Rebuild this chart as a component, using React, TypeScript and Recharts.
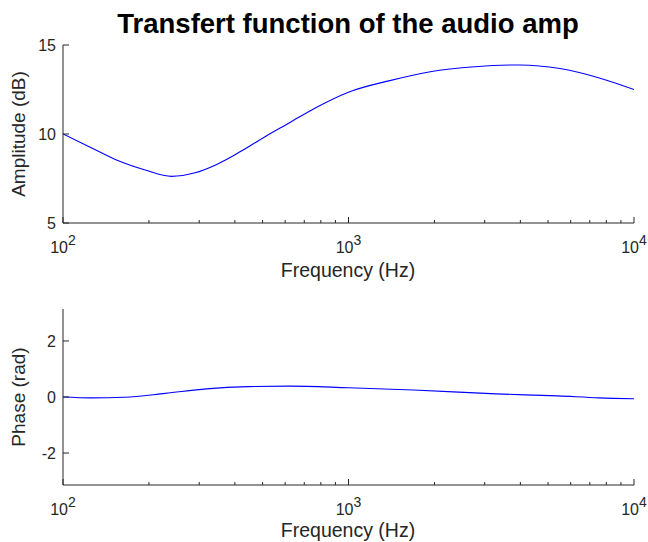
import { Line, LineChart, XAxis, YAxis } from 'recharts';

// frequency axis (Hz), log scale
const freqTicks = [100, 200, 300, 400, 500, 600, 700, 800, 900, 1000, 2000, 3000, 4000, 5000, 6000, 7000, 8000, 9000, 10000];
const decades = [100, 1000, 10000];

// amplitude response
const ampFreq = [100, 124, 154, 194, 240, 290, 341, 417, 510, 624, 762, 1000, 1396, 1934, 2770, 3985, 5500, 7560, 10000];
const ampDb = [10.0, 9.27, 8.54, 7.98, 7.62, 7.82, 8.25, 9.0, 9.85, 10.65, 11.45, 12.35, 13.0, 13.5, 13.78, 13.88, 13.68, 13.15, 12.5];
const ampTicks = [5, 10, 15];

// phase response
const phaseFreq = [100, 125, 164, 228, 318, 445, 620, 1000, 1687, 3290, 5405, 7540, 10000];
const phaseRad = [0.0, -0.03, -0.01, 0.13, 0.29, 0.37, 0.39, 0.33, 0.25, 0.11, 0.04, -0.03, -0.06];
const phaseTicks = [-2, 0, 2];

const ampData = ampFreq.map((f, i) => ({ f, v: ampDb[i] }));
const phaseData = phaseFreq.map((f, i) => ({ f, v: phaseRad[i] }));

const AXIS = '#262626';
const FONT = '"Liberation Sans", Arial, Helvetica, sans-serif';

function BottomTick({ x, y, payload }: any) {
  const major = decades.includes(payload.value);
  const len = major ? 6 : 3;
  return (
    <g>
      <line x1={x} x2={x} y1={y} y2={y - len} stroke={AXIS} />
      {major && (
        <text x={x} y={y + 30} textAnchor="middle" fill={AXIS} fontSize={16}>
          <tspan>10</tspan>
          <tspan dy={-8} fontSize={14}>{Math.round(Math.log10(payload.value))}</tspan>
        </text>
      )}
    </g>
  );
}

function TopTick({ x, y, payload }: any) {
  const len = decades.includes(payload.value) ? 6 : 3;
  return <line x1={x} x2={x} y1={y} y2={y + len} stroke={AXIS} />;
}

function LeftTick({ x, y, payload }: any) {
  return (
    <g>
      <line x1={x} x2={x + 6} y1={y} y2={y} stroke={AXIS} />
      <text x={x - 7} y={y + 6} textAnchor="end" fill={AXIS} fontSize={16}>
        {payload.value}
      </text>
    </g>
  );
}

function RightTick({ x, y }: any) {
  return <line x1={x} x2={x - 6} y1={y} y2={y} stroke={AXIS} />;
}

function Panel({ data, domain, ticks, height, top, bottom }: any) {
  return (
    <LineChart width={648} height={height} data={data} margin={{ top, right: 14, bottom: 0, left: 0 }}>
      <XAxis
        dataKey="f"
        type="number"
        scale="log"
        domain={[100, 10000]}
        allowDataOverflow
        ticks={freqTicks}
        interval={0}
        tickSize={0}
        tickMargin={0}
        tickLine={false}
        tick={<BottomTick />}
        height={bottom}
        stroke={AXIS}
      />
      <XAxis
        xAxisId="top"
        orientation="top"
        dataKey="f"
        type="number"
        scale="log"
        domain={[100, 10000]}
        allowDataOverflow
        ticks={freqTicks}
        interval={0}
        tickSize={0}
        tickMargin={0}
        tickLine={false}
        tick={<TopTick />}
        height={0}
        stroke={AXIS}
      />
      <YAxis
        type="number"
        domain={domain}
        allowDataOverflow
        ticks={ticks}
        interval={0}
        tickSize={0}
        tickMargin={0}
        tickLine={false}
        tick={<LeftTick />}
        width={63}
        stroke={AXIS}
      />
      <YAxis
        yAxisId="right"
        orientation="right"
        type="number"
        domain={domain}
        allowDataOverflow
        ticks={ticks}
        interval={0}
        tickSize={0}
        tickMargin={0}
        tickLine={false}
        tick={<RightTick />}
        width={0}
        stroke={AXIS}
      />
      <Line dataKey="v" type="monotone" stroke="#0000ff" strokeWidth={1.1} dot={false} isAnimationActive={false} />
    </LineChart>
  );
}

export default function App() {
  return (
    <div style={{ position: 'relative', width: 648, height: 542, background: '#fff', fontFamily: FONT }}>
      <style>{'body { margin: 0; }'}</style>
      <div style={{ position: 'absolute', left: 0, top: 0 }}>
        <Panel data={ampData} domain={[5, 15]} ticks={ampTicks} height={290} top={45} bottom={67} />
      </div>
      <div style={{ position: 'absolute', left: 0, top: 290 }}>
        <Panel data={phaseData} domain={[-Math.PI, Math.PI]} ticks={phaseTicks} height={252} top={19} bottom={57} />
      </div>
      <svg width={648} height={542} style={{ position: 'absolute', left: 0, top: 0, pointerEvents: 'none' }}>
        <text x={348} y={33} textAnchor="middle" fontSize={27.5} fontWeight="bold" fill="#000">
          Transfert function of the audio amp
        </text>
        <text x={348} y={277} textAnchor="middle" fontSize={19.5} fill={AXIS}>
          Frequency (Hz)
        </text>
        <text x={348} y={537} textAnchor="middle" fontSize={19.5} fill={AXIS}>
          Frequency (Hz)
        </text>
        <text x={25} y={134} textAnchor="middle" fontSize={19} fill={AXIS} transform="rotate(-90 25 134)">
          Amplitude (dB)
        </text>
        <text x={25} y={397} textAnchor="middle" fontSize={19} fill={AXIS} transform="rotate(-90 25 397)">
          Phase (rad)
        </text>
      </svg>
    </div>
  );
}
